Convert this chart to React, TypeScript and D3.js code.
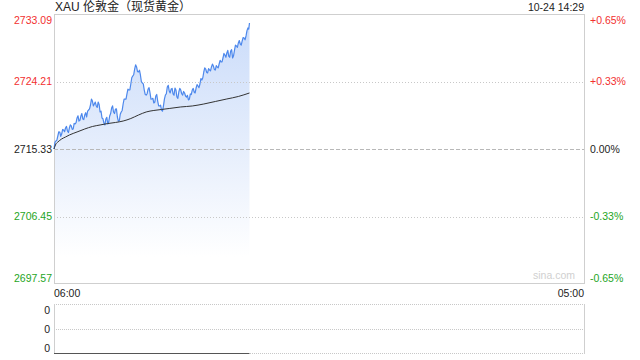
import React from "react";
import * as d3 from "d3";

// ---- data ----
// minutes after 06:00, 2.5-minute samples up to 14:29
const priceMinutes = [...d3.range(0, 507.5, 2.5), 507, 509];
const priceValues = [
  2715.33, 2716.2, 2716.38, 2716.5, 2717.04, 2717.6, 2717.57, 2717.0, 2717.3, 2717.9,
  2717.83, 2717.6, 2718.09, 2718.3, 2717.7, 2717.5, 2718.09, 2718.5, 2718.36, 2717.9,
  2717.96, 2718.7, 2718.62, 2718.8, 2719.41, 2719.7, 2719.01, 2719.1, 2719.67, 2720.0,
  2719.28, 2719.2, 2719.8, 2720.1, 2719.54, 2720.3, 2720.46, 2720.6, 2721.12, 2721.9,
  2721.64, 2721.0, 2721.25, 2721.5, 2720.99, 2720.8, 2721.51, 2721.2, 2720.2, 2720.3,
  2719.41, 2719.3, 2718.75, 2718.5, 2719.28, 2719.5, 2718.62, 2718.9, 2719.67, 2720.0,
  2720.72, 2721.0, 2720.2, 2720.0, 2720.59, 2720.6, 2719.54, 2719.0, 2719.01, 2719.9,
  2720.2, 2720.4, 2721.25, 2721.9, 2721.91, 2721.9, 2722.57, 2723.2, 2723.09, 2723.1,
  2723.88, 2724.7, 2724.93, 2725.1, 2725.85, 2726.4, 2726.12, 2725.5, 2725.46, 2725.7,
  2725.07, 2724.2, 2724.01, 2723.9, 2723.09, 2722.5, 2722.43, 2722.6, 2723.22, 2723.4,
  2722.7, 2721.9, 2721.91, 2722.0, 2721.38, 2721.5, 2722.3, 2722.5, 2721.64, 2721.0,
  2720.99, 2721.1, 2720.46, 2720.3, 2720.99, 2721.9, 2722.43, 2722.6, 2723.49, 2723.7,
  2722.96, 2722.7, 2723.22, 2723.3, 2722.57, 2722.4, 2723.35, 2723.1, 2722.17, 2722.0,
  2722.83, 2723.3, 2723.09, 2722.6, 2722.43, 2722.9, 2722.7, 2722.3, 2722.17, 2722.4,
  2721.78, 2721.9, 2722.57, 2722.5, 2723.09, 2723.3, 2722.83, 2722.7, 2723.35, 2723.8,
  2723.62, 2723.4, 2723.88, 2724.6, 2724.41, 2724.7, 2725.46, 2726.0, 2725.85, 2725.4,
  2725.33, 2725.9, 2725.72, 2725.6, 2726.12, 2726.5, 2726.25, 2725.8, 2725.72, 2726.3,
  2726.12, 2726.0, 2726.51, 2727.0, 2726.78, 2726.8, 2727.3, 2727.9, 2727.7, 2727.4,
  2727.96, 2728.3, 2727.56, 2727.4, 2728.22, 2728.4, 2727.3, 2727.6, 2728.35, 2729.0,
  2728.88, 2728.7, 2729.28, 2729.6, 2729.14, 2729.0, 2729.54, 2730.0, 2729.93, 2729.7,
  2730.2, 2730.9, 2731.25, 2731.1, 2731.91,
];
const avgMinutes = [0, 5, 10, 20, 30, 40, 60, 80, 100, 120, 140, 160, 180, 200, 220, 240, 260, 280, 300, 330, 360, 390, 420, 450, 480, 509];
const avgValues = [
  2715.33, 2715.99, 2716.25, 2716.65, 2716.91, 2717.17, 2717.57, 2717.96, 2718.29, 2718.49,
  2718.68, 2718.82, 2719.01, 2719.34, 2719.8, 2720.2, 2720.4, 2720.53, 2720.66, 2720.86,
  2720.99, 2721.25, 2721.58, 2721.91, 2722.24, 2722.7,
];
const volMinutes = [0, 509];
const volValues = [0, 0];

const priceTicks = [2733.09, 2724.21, 2715.33, 2706.45, 2697.57];
const priceTickLabels = ["2733.09", "2724.21", "2715.33", "2706.45", "2697.57"];
const pctTickLabels = ["+0.65%", "+0.33%", "0.00%", "-0.33%", "-0.65%"];
const volTickLabels = ["0", "0", "0"];
const timeLabels = ["06:00", "05:00"];
const title = "XAU 伦敦金（现货黄金）";
const stamp = "10-24 14:29";
const prevClose = 2715.33;
const totalMinutes = 1380;

const RED = "#f2302f";
const GREEN = "#1ea51e";
const FONT = "'Liberation Sans', Arial, 'Noto Sans CJK SC', sans-serif";

export default function App() {
  const L = 54, R = 584, T = 14, B = 284;
  const vT = 305, vB = 354;
  const x = d3.scaleLinear().domain([0, totalMinutes]).range([L, R]);
  const y = d3.scaleLinear().domain([priceTicks[4], priceTicks[0]]).range([B, T]);
  const vy = d3.scaleLinear().domain([0, 1]).range([vB, vT]);

  const n = Math.min(priceMinutes.length, priceValues.length);
  const pts = priceMinutes.slice(0, n).map((m, i) => [m, priceValues[i]] as [number, number]);
  const avgPts = avgMinutes.map((m, i) => [m, avgValues[i]] as [number, number]);
  const volPts = volMinutes.map((m, i) => [m, volValues[i]] as [number, number]);

  const line = d3.line<[number, number]>().x((d) => x(d[0])).y((d) => y(d[1]));
  const area = d3
    .area<[number, number]>()
    .x((d) => x(d[0]))
    .y0(B)
    .y1((d) => y(d[1]));
  const avgLine = d3
    .line<[number, number]>()
    .x((d) => x(d[0]))
    .y((d) => y(d[1]))
    .curve(d3.curveMonotoneX);
  const volLine = d3.line<[number, number]>().x((d) => x(d[0])).y((d) => Math.round(vy(d[1])) - 0.5);

  const cy = (v: number) => Math.round(y(v)) + 0.5;
  const labelColor = (v: number) => (v > prevClose ? RED : v < prevClose ? GREEN : "#222");

  const labelY = (i: number, v: number) => {
    if (i === 0) return T + 6;
    if (i === priceTicks.length - 1) return B - 6;
    return y(v);
  };

  const volGrid = [vT, (vT + vB) / 2, vB];

  return (
    <svg width={640} height={360} style={{ position: "absolute", left: 0, top: 0 }} fontFamily={FONT}>
      <defs>
        <linearGradient id="fillGrad" x1="0" y1={T} x2="0" y2={B} gradientUnits="userSpaceOnUse">
          <stop offset="0%" stopColor="#c9dbfa" stopOpacity={1} />
          <stop offset="50%" stopColor="#e6eefc" stopOpacity={1} />
          <stop offset="90%" stopColor="#ffffff" stopOpacity={1} />
        </linearGradient>
      </defs>
      <rect x={0} y={0} width={640} height={360} fill="#fff" />

      {/* title */}
      <text x={L + 1} y={11} fontSize={12} fill="#222">{title}</text>
      <text x={R} y={11} fontSize={10.5} fill="#222" textAnchor="end">{stamp}</text>

      {/* area */}
      <path d={area(pts) || ""} fill="url(#fillGrad)" />

      {/* grid */}
      {priceTicks.slice(1, 4).map((v, i) => (
        <line
          key={"g" + i}
          x1={L}
          x2={R}
          y1={cy(v)}
          y2={cy(v)}
          stroke={v === prevClose ? "#b8b8b8" : "#c8c8c8"}
          strokeWidth={1}
          strokeDasharray={v === prevClose ? "4,2" : "1,2"}
        />
      ))}

      {/* frame */}
      <rect x={L + 0.5} y={T + 0.5} width={R - L} height={B - T - 1} fill="none" stroke="#cfcfcf" />

      {/* lines */}
      <path d={line(pts) || ""} fill="none" stroke="#4d88ec" strokeWidth={1.2} strokeLinejoin="round" />
      <path d={avgLine(avgPts) || ""} fill="none" stroke="#333" strokeWidth={1} />

      {/* y labels */}
      {priceTicks.map((v, i) => (
        <text
          key={"l" + i}
          x={L - 2}
          y={labelY(i, v)}
          dy="0.35em"
          fontSize={10.5}
          textAnchor="end"
          fill={labelColor(v)}
        >
          {priceTickLabels[i]}
        </text>
      ))}
      {priceTicks.map((v, i) => (
        <text
          key={"r" + i}
          x={R + 6}
          y={labelY(i, v)}
          dy="0.35em"
          fontSize={10.5}
          textAnchor="start"
          fill={labelColor(v)}
        >
          {pctTickLabels[i]}
        </text>
      ))}

      {/* watermark */}
      <text x={R - 9} y={B - 5} fontSize={10.5} fill="#d0d0d0" textAnchor="end">sina.com</text>

      {/* time labels */}
      <text x={L} y={297} fontSize={10.5} fill="#222">{timeLabels[0]}</text>
      <text x={R} y={297} fontSize={10.5} fill="#222" textAnchor="end">{timeLabels[1]}</text>

      {/* volume panel */}
      {volGrid.map((gy, i) => (
        <line key={"v" + i} x1={L} x2={R} y1={Math.round(gy) - 0.5} y2={Math.round(gy) - 0.5} stroke="#c8c8c8" strokeDasharray="1,1" />
      ))}
      <line x1={L + 0.5} x2={L + 0.5} y1={vT - 1} y2={vB} stroke="#cfcfcf" />
      <line x1={R + 0.5} x2={R + 0.5} y1={vT - 1} y2={vB} stroke="#cfcfcf" />
      <path d={volLine(volPts) || ""} fill="none" stroke="#555" strokeWidth={1} />
      {volTickLabels.map((t, i) => (
        <text key={"vt" + i} x={L - 4} y={[310, 329, 348][i]} dy="0.35em" fontSize={10.5} textAnchor="end" fill="#222">
          {t}
        </text>
      ))}
    </svg>
  );
}
